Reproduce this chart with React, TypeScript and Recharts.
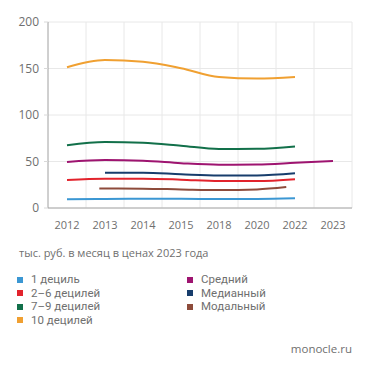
import { LineChart, Line, XAxis, YAxis, CartesianGrid, ReferenceLine } from "recharts"

const years = ["2012", "2013", "2014", "2015", "2018", "2020", "2022", "2023"]
const yTicks = [0, 50, 100, 150, 200]

// values, thousand rubles per month
const decile1 = [9.3, 9.8, 10, 10, 9.6, 9.7, 10.4]
const decile2to6 = [30, 31.5, 31.5, 30.5, 29, 29, 31]
const decile7to9 = [67.5, 71, 70.2, 67, 63.5, 63.6, 66.2]
const decile10 = [151.3, 159.1, 157.3, 150.3, 140.9, 139.2, 140.9]
const average = [49.5, 51.5, 50.8, 48.2, 46.6, 46.8, 48.6, 50.6]
const median = [38, 38, 36.3, 35, 35, 37.3]
const modal = [21, 20.8, 20, 19.3, 20, 22.5]

// where each series sits on the year axis (index), modal sits off-grid
const medianPos = [1, 2, 3, 4, 5, 6]
const modalPos = [0.85, 2, 3, 4, 5, 5.77]

const toPoints = (vals: number[], pos?: number[]) =>
  vals.map((v, i) => ({ x: pos ? pos[i] : i, v }))

const series = [
  { name: "1 дециль", color: "#3b97d3", data: toPoints(decile1) },
  { name: "2–6 децилей", color: "#e2232c", data: toPoints(decile2to6) },
  { name: "7–9 децилей", color: "#12704a", data: toPoints(decile7to9) },
  { name: "10 децилей", color: "#f0a031", data: toPoints(decile10) },
  { name: "Средний", color: "#9e1470", data: toPoints(average) },
  { name: "Медианный", color: "#173d6c", data: toPoints(median, medianPos) },
  { name: "Модальный", color: "#8d4b3b", data: toPoints(modal, modalPos) },
]

const font = "'Open Sans', sans-serif"
const legendFont = "Roboto, sans-serif"
const grey = "#6f6f6f"

function LegendItem({ name, color }: { name: string; color: string }) {
  return (
    <div style={{ display: "flex", alignItems: "center", height: 13.5, lineHeight: "13.5px" }}>
      <span style={{ width: 6, height: 6, background: color, marginRight: 8, flexShrink: 0 }} />
      <span style={{ whiteSpace: "nowrap" }}>{name}</span>
    </div>
  )
}

export default function App() {
  const left = series.slice(0, 4)
  const right = series.slice(4)
  const boundaries = years.map((_, i) => i + 0.5)

  return (
    <div
      style={{
        position: "absolute",
        top: 0,
        left: 0,
        width: 371,
        height: 371,
        background: "#fff",
        fontFamily: font,
        color: grey,
      }}
    >
      <LineChart width={371} height={240} margin={{ top: 22, right: 19, bottom: 0, left: 0 }}>
        <CartesianGrid vertical={false} stroke="#e8e8e8" />
        {boundaries.map((b) => (
          <ReferenceLine key={b} x={b} stroke="#e8e8e8" />
        ))}
        <XAxis
          dataKey="x"
          type="number"
          domain={[-0.5, 7.5]}
          ticks={years.map((_, i) => i)}
          tickFormatter={(i: number) => years[i]}
          allowDataOverflow
          stroke="#a8a8a8"
          tickLine={false}
          tickMargin={7}
          tick={{ fill: grey, fontSize: 11, fontFamily: font }}
          height={32}
        />
        <YAxis
          domain={[0, 200]}
          ticks={yTicks}
          width={48}
          stroke="#a0a0a0"
          tickSize={4}
          tickMargin={5}
          tickLine={{ stroke: "#d8d8d8" }}
          tick={{ fill: grey, fontSize: 12, fontFamily: font }}
        />
        {series.map((s) => (
          <Line
            key={s.name}
            data={s.data}
            dataKey="v"
            type="monotone"
            stroke={s.color}
            strokeWidth={2}
            dot={false}
            isAnimationActive={false}
          />
        ))}
      </LineChart>

      <div style={{ position: "absolute", left: 19, top: 245, fontSize: 11, lineHeight: "16px" }}>
        тыс. руб. в месяц в ценах 2023 года
      </div>

      <div style={{ position: "absolute", left: 17, top: 273, fontSize: 11.5, fontFamily: legendFont }}>
        {left.map((s) => (
          <LegendItem key={s.name} name={s.name} color={s.color} />
        ))}
      </div>
      <div style={{ position: "absolute", left: 187, top: 273, fontSize: 11.5, fontFamily: legendFont }}>
        {right.map((s) => (
          <LegendItem key={s.name} name={s.name} color={s.color} />
        ))}
      </div>

      <div style={{ position: "absolute", right: 19, top: 341, fontSize: 11.5, lineHeight: "16px" }}>
        monocle.ru
      </div>
    </div>
  )
}
